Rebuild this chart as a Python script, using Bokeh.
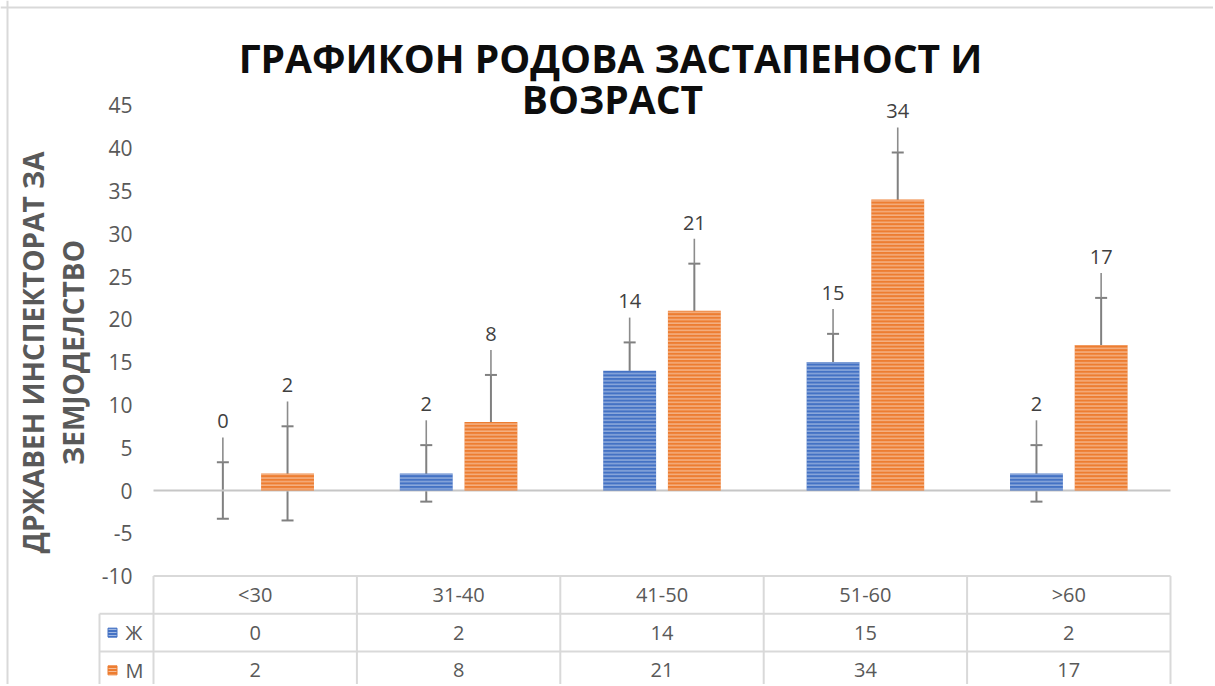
import math
from bokeh.plotting import figure
from bokeh.models import ColumnDataSource, Range1d, Whisker, TeeHead, Span
from bokeh.core.properties import value
from bokeh.embed import file_html
from bokeh.resources import INLINE

# ---------------- data ----------------
categories = ["<30", "31-40", "41-50", "51-60", ">60"]
series_names = ["Ж", "М"]
zh_values = [0, 2, 14, 15, 2]
m_values = [2, 8, 21, 34, 17]
zh_error = [3.3, 3.3, 3.3, 3.3, 3.3]
m_error = [5.5, 5.5, 5.5, 5.5, 5.5]
y_ticks = [-10, -5, 0, 5, 10, 15, 20, 25, 30, 35, 40, 45]
title_lines = ["ГРАФИКОН РОДОВА ЗАСТАПЕНОСТ И", "ВОЗРАСТ"]
y_title_lines = ["ДРЖАВЕН ИНСПЕКТОРАТ ЗА", "ЗЕМЈОДЕЛСТВО"]
series_colors = ["#4472C4", "#ED7D31"]

# ---------------- layout (pixels of the figure) ----------------
W, H = 1213, 684
X0, CW = 254.7, 203.4      # pixel of first category centre, category width
Y0, PU = 490.0, 8.56       # pixel of value 0, pixels per unit


def dx(px):
    return (px - X0) / CW


def dy(py):
    return (Y0 - py) / PU


p = figure(width=W, height=H, output_backend="svg", toolbar_location=None,
           x_range=Range1d(dx(0), dx(W)), y_range=Range1d(dy(H), dy(0)),
           x_axis_location=None, y_axis_location=None, min_border=0,
           background_fill_color="white", border_fill_color="white")
p.outline_line_color = None
p.xgrid.visible = False
p.ygrid.visible = False

FONT = value("Open Sans")
GREY_TXT = "#595959"

# chart border (left, top)
p.add_layout(Span(location=dx(7), dimension="height", line_color="#d9d9d9", line_width=2))
p.add_layout(Span(location=dy(7), dimension="width", line_color="#d9d9d9", line_width=2))

n = len(categories)
xs = list(range(n))
offsets = [-0.159, 0.159]
bar_w = 0.26

# zero line
p.segment(x0=[-0.5], y0=[0], x1=[n - 0.5], y1=[0], line_color="#c6c6c6", line_width=2)

label_lift = 4.8
leader_len = 2.9
for s, (vals, errs) in enumerate([(zh_values, zh_error), (m_values, m_error)]):
    bx = [x + offsets[s] for x in xs]
    col = series_colors[s]
    src = ColumnDataSource(dict(
        x=bx, top=vals,
        upper=[v + e for v, e in zip(vals, errs)],
        lower=[v - e for v, e in zip(vals, errs)],
        lead_top=[v + e + leader_len for v, e in zip(vals, errs)],
        lab_y=[v + e + label_lift for v, e in zip(vals, errs)],
        lab=[str(v) for v in vals],
    ))
    p.vbar(x="x", top="top", bottom=0, width=bar_w, source=src,
           fill_color=col, line_color=None,
           hatch_pattern="horizontal_line", hatch_color="white",
           hatch_alpha=0.5, hatch_scale=3.6, hatch_weight=1.2)
    wh = Whisker(base="x", upper="upper", lower="lower", source=src,
                 line_color="#808080", line_width=2,
                 upper_head=TeeHead(size=12, line_color="#808080", line_width=2),
                 lower_head=TeeHead(size=12, line_color="#808080", line_width=2))
    p.add_layout(wh)
    p.segment(x0="x", y0="upper", x1="x", y1="lead_top", source=src,
              line_color="#8c8c8c", line_width=1.6)
    p.text(x="x", y="lab_y", text="lab", source=src, text_align="center",
           text_baseline="middle", text_font=FONT, text_font_size="20px",
           text_color="#404040")

# y tick labels
p.text(x=[dx(132)] * len(y_ticks), y=y_ticks, text=[str(t) for t in y_ticks],
       text_align="right", text_baseline="middle", text_font=FONT,
       text_font_size="21px", text_color=GREY_TXT)

# y-axis title (two lines, rotated)
p.text(x=[dx(32), dx(72)], y=[dy(352), dy(352)], text=y_title_lines,
       angle=math.pi / 2, text_align="center", text_baseline="middle",
       text_font=FONT, text_font_style="bold", text_font_size="28px",
       text_color=GREY_TXT)

# chart title
p.text(x=[dx(610), dx(612)], y=[dy(56.5), dy(97.5)], text=title_lines,
       text_align="center", text_baseline="middle", text_font=FONT,
       text_font_style="bold", text_font_size="39px", text_color="#0d0d0d")

# ---------------- data table ----------------
table_top = -10
row_h = 37.7 / PU
leg_left = dx(99)
right = n - 0.5
rows_y = [table_top - row_h * (k + 0.5) for k in range(3)]
h_x0 = [-0.5, leg_left, leg_left]
h_x1 = [right, right, right]
h_y = [table_top, table_top - row_h, table_top - 2 * row_h]
bottom = dy(H) - 1
p.segment(x0=h_x0, y0=h_y, x1=h_x1, y1=h_y, line_color="#d9d9d9", line_width=2)
v_x = [leg_left] + [i - 0.5 for i in range(n + 1)]
v_top = [table_top - row_h] + [table_top] * (n + 1)
p.segment(x0=v_x, y0=v_top, x1=v_x, y1=[bottom] * len(v_x),
          line_color="#d9d9d9", line_width=2)

p.text(x=xs, y=[rows_y[0]] * n, text=categories, text_align="center",
       text_baseline="middle", text_font=FONT, text_font_size="20px",
       text_color=GREY_TXT)
for s, vals in enumerate([zh_values, m_values]):
    ry = rows_y[s + 1]
    p.text(x=xs, y=[ry] * n, text=[str(v) for v in vals], text_align="center",
           text_baseline="middle", text_font=FONT, text_font_size="20px",
           text_color=GREY_TXT)
    p.rect(x=[dx(112)], y=[ry], width=9, height=9, width_units="screen",
           height_units="screen", fill_color=series_colors[s],
           line_color=series_colors[s], hatch_pattern="horizontal_line",
           hatch_color="white", hatch_alpha=0.5, hatch_scale=3, hatch_weight=1)
    p.text(x=[dx(125)], y=[ry], text=[series_names[s]], text_align="left",
           text_baseline="middle", text_font=FONT, text_font_size="20px",
           text_color=GREY_TXT)

open("out.html", "w").write(file_html(p, INLINE))
